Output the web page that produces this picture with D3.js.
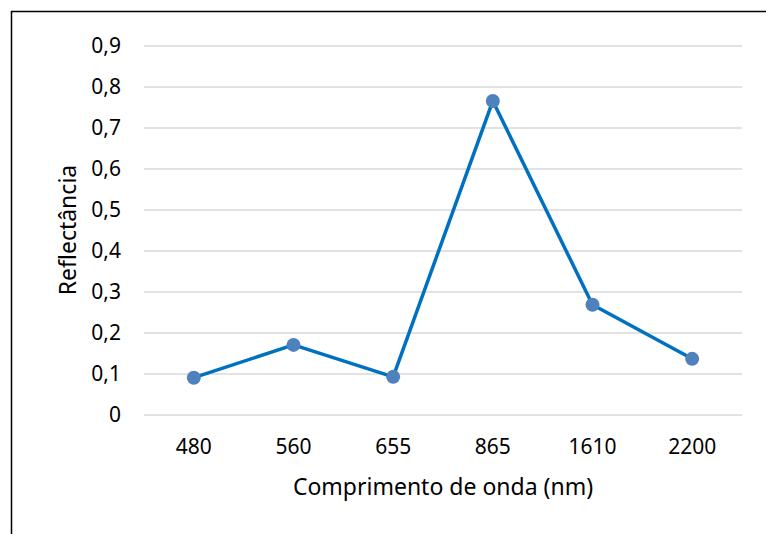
<!DOCTYPE html>
<html>
<head>
<meta charset="utf-8">
<script src="https://cdn.jsdelivr.net/npm/d3@7"></script>
<style>
  body { margin: 0; background: #fff; }
  text { font-family: "Noto Sans", "Open Sans", sans-serif; fill: #000; }
</style>
</head>
<body>
<div id="chart"></div>
<script>
// Données
const comprimentos = ["480", "560", "655", "865", "1610", "2200"];
const reflectancia = [0.091, 0.171, 0.093, 0.766, 0.269, 0.137];
const ticksY = [0, 0.1, 0.2, 0.3, 0.4, 0.5, 0.6, 0.7, 0.8, 0.9];

const width = 766, height = 534;
const margin = { top: 46, right: 24, bottom: 119, left: 144 };

const svg = d3.select("#chart").append("svg")
    .attr("width", width)
    .attr("height", height);

// cadre
svg.append("rect")
    .attr("x", 11.5).attr("y", 11.5)
    .attr("width", 800).attr("height", 600)
    .attr("fill", "none")
    .attr("stroke", "#000")
    .attr("stroke-width", 1.5);

const x = d3.scaleBand()
    .domain(comprimentos)
    .range([margin.left, width - margin.right]);

const y = d3.scaleLinear()
    .domain([0, 0.9])
    .range([height - margin.bottom, margin.top]);

// grille
svg.append("g").selectAll("line")
    .data(ticksY)
    .enter()
    .append("line")
    .attr("x1", margin.left)
    .attr("x2", width - margin.right)
    .attr("y1", d => y(d))
    .attr("y2", d => y(d))
    .attr("stroke", "#d9d9d9")
    .attr("stroke-width", 1.5);

// axe Y
const axeY = d3.axisLeft(y)
    .tickValues(ticksY)
    .tickFormat(d => d === 0 ? "0" : d3.format(".1f")(d).replace(".", ","))
    .tickSize(0)
    .tickPadding(23);

svg.append("g")
    .attr("transform", "translate(" + margin.left + ",0)")
    .call(axeY)
    .call(g => g.select(".domain").remove())
    .selectAll("text")
    .attr("font-size", 21)
    .attr("font-family", null);

// axe X
const axeX = d3.axisBottom(x)
    .tickSize(0)
    .tickPadding(24);

svg.append("g")
    .attr("transform", "translate(0," + y(0) + ")")
    .call(axeX)
    .call(g => g.select(".domain").remove())
    .selectAll("text")
    .attr("font-size", 21)
    .attr("font-family", null);

// titres
svg.append("text")
    .attr("x", 443)
    .attr("y", 495)
    .attr("text-anchor", "middle")
    .attr("font-size", 23)
    .text("Comprimento de onda (nm)");

svg.append("text")
    .attr("transform", "translate(76,230) rotate(-90)")
    .attr("text-anchor", "middle")
    .attr("font-size", 23)
    .text("Reflectância");

// ligne
const ligne = d3.line()
    .x((d, i) => x(comprimentos[i]) + x.bandwidth() / 2)
    .y(d => y(d));

svg.append("path")
    .datum(reflectancia)
    .attr("d", ligne)
    .attr("fill", "none")
    .attr("stroke", "#0070c0")
    .attr("stroke-width", 3.5)
    .attr("stroke-linejoin", "round");

svg.append("g").selectAll("circle")
    .data(reflectancia)
    .enter()
    .append("circle")
    .attr("cx", (d, i) => x(comprimentos[i]) + x.bandwidth() / 2)
    .attr("cy", d => y(d))
    .attr("r", 7)
    .attr("fill", "#4f81bd");
</script>
</body>
</html>
